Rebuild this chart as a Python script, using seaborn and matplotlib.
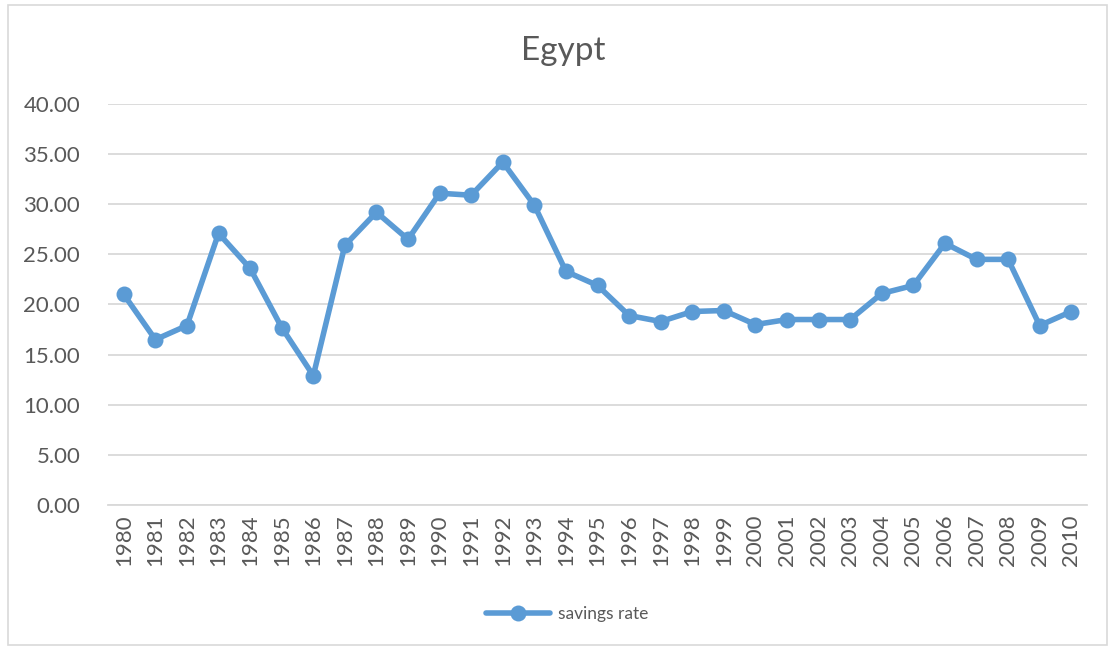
import numpy as np
import pandas as pd
import matplotlib
matplotlib.use("Agg")
import matplotlib.pyplot as plt
import seaborn as sns

years = [str(y) for y in range(1980, 2011)]
savings_rate = [21.0, 16.5, 17.9, 27.1, 23.6, 17.7, 12.9, 25.9, 29.2, 26.5,
                31.1, 30.9, 34.2, 29.9, 23.3, 21.9, 18.9, 18.3, 19.3, 19.4,
                18.0, 18.5, 18.5, 18.5, 21.1, 21.9, 26.1, 24.5, 24.5, 17.9,
                19.3]
y_ticks = [0, 5, 10, 15, 20, 25, 30, 35, 40]

sns.set_theme(style="white")
plt.rcParams["font.family"] = ["Lato", "DejaVu Sans"]

LINE = "#5B9BD5"
TEXT = "#595959"
GRID = "#D9D9D9"

df = pd.DataFrame({"pos": np.arange(len(years)), "year": years,
                   "savings rate": savings_rate})

fig = plt.figure(figsize=(11.17, 6.48), dpi=100)
ax = fig.add_axes([0.0967, 0.2207, 0.8765, 0.6188])

sns.lineplot(data=df, x="pos", y="savings rate", ax=ax, color=LINE,
             linewidth=4, marker="o", markersize=11.5, markeredgewidth=0,
             label="savings rate")

ax.set_xlim(-0.5, len(years) - 0.5)
ax.set_ylim(0, 40)
ax.set_yticks(y_ticks)
ax.set_yticklabels([f"{v:.2f}" for v in y_ticks])
ax.set_xticks(df["pos"])
ax.set_xticklabels(years, rotation=90)
ax.tick_params(axis="both", colors=TEXT, labelsize=16, length=0)
ax.tick_params(axis="y", pad=20)
ax.tick_params(axis="x", pad=7)
ax.set_xlabel("")
ax.set_ylabel("")
ax.grid(axis="y", color=GRID, linewidth=1.3)
ax.set_axisbelow(True)
for side in ["top", "right", "left"]:
    ax.spines[side].set_visible(False)
ax.spines["bottom"].set_color(GRID)
ax.spines["bottom"].set_linewidth(1.3)

fig.text(0.504, 0.922, "Egypt", ha="center", va="center", fontsize=24,
         color=TEXT)

leg = ax.legend(loc="center", bbox_to_anchor=(0.508, 0.053),
                bbox_transform=fig.transFigure, frameon=False, fontsize=12.5,
                handlelength=3.7, handletextpad=0.45, markerscale=1.0)
for t in leg.get_texts():
    t.set_color(TEXT)

# thin chart-area border
border = plt.Rectangle((0.007, 0.005), 0.984, 0.988, transform=fig.transFigure,
                       fill=False, edgecolor=GRID, linewidth=1.2)
fig.patches.append(border)

fig.savefig("out.png", dpi=100, facecolor="white")
